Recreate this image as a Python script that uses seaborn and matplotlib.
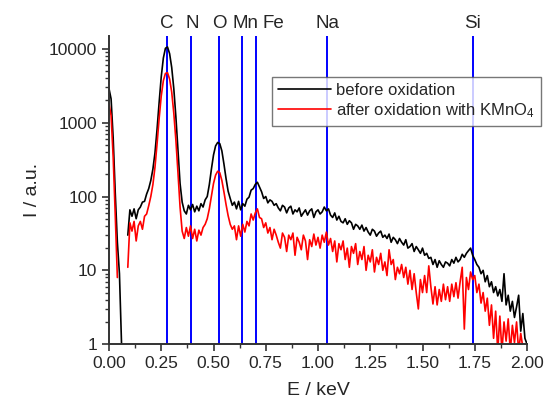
import numpy as np
import pandas as pd
import matplotlib
matplotlib.use("Agg")
import matplotlib.pyplot as plt
from matplotlib.lines import Line2D
from matplotlib.ticker import FuncFormatter, MultipleLocator, LogLocator
import seaborn as sns

# EDX spectra, channels every 0.01 keV from 0.00 to 2.00 keV
energy = np.round(np.arange(0, 201) * 0.01, 2)

before = [
    2900, 2100, 620, 110, 24, 9, 1, np.nan, np.nan, 30,
    66, 54, 68, 50, 66, 72, 84, 86, 108, 128,
    165, 235, 390, 820, 1900, 4200, 7500, 10200, 10600, 8600,
    5600, 2900, 1200, 420, 150, 84, 64, 58, 76, 66,
    78, 62, 74, 64, 80, 72, 90, 100, 145, 235,
    365, 485, 540, 520, 415, 275, 175, 118, 94, 76,
    84, 68, 86, 66, 80, 74, 92, 98, 122, 128,
    146, 156, 134, 116, 94, 100, 82, 90, 86, 76,
    80, 70, 64, 76, 72, 60, 70, 74, 58, 66,
    62, 70, 54, 60, 66, 56, 64, 68, 52, 62,
    66, 58, 62, 72, 64, 68, 56, 52, 60, 48,
    54, 46, 44, 50, 42, 47, 44, 36, 42, 40,
    36, 41, 34, 38, 33, 30, 36, 34, 29, 32,
    34, 28, 30, 27, 31, 24, 28, 26, 23, 27,
    24, 22, 26, 20, 21, 23, 18, 21, 19, 17,
    20, 16, 17, 14.5, 15, 12, 14, 11, 13.5, 12,
    11, 13, 12.5, 11.5, 14, 12.5, 15, 13, 14, 16.5,
    15, 17, 18.5, 20, 16, 14, 12, 11, 9, 10,
    7, 8.5, 6, 7, 5, 6, 4.5, 5.5, 3.8, 9,
    3.4, 4.6, 2.8, 3.8, 2.3, 3.2, 4.6, 1.5, 2.6, 1.2,
    1,
]

after = [
    1800, 1250, 340, 55, 8, np.nan, np.nan, np.nan, np.nan, 11,
    44, 34, 46, 25, 40, 46, 36, 54, 58, 75,
    100, 145, 250, 520, 1150, 2300, 3700, 4650, 4750, 3900,
    2600, 1350, 580, 210, 72, 34, 27, 38, 29, 40,
    27, 36, 25, 35, 30, 38, 42, 50, 68, 100,
    150, 195, 220, 210, 165, 115, 78, 55, 42, 36,
    40, 26, 40, 29, 42, 33, 46, 40, 58, 48,
    60, 68, 52, 50, 38, 44, 32, 38, 26, 36,
    30, 24, 20, 32, 28, 18, 30, 26, 32, 16,
    28, 24, 19, 30, 25, 14, 26, 21, 31, 22,
    28, 20, 30, 24, 33, 22, 27, 18, 25, 13,
    23, 19, 25, 14, 20, 11, 21, 17, 23, 12,
    18, 14, 21, 10, 16, 13, 19, 9.5, 15, 12,
    17, 10, 13, 8.5, 19, 12, 14, 7.5, 11, 9,
    12, 8, 11, 6.5, 10, 5.5, 9, 5, 3, 7.5,
    5, 8.5, 5, 11.5, 6, 3.5, 6, 3.4, 5.5, 3.8,
    6.5, 4, 6, 3.8, 6.5, 4.4, 6.8, 4.2, 7, 11,
    1.6, 8, 5.5, 9.5, 7.5, 8.5, 5, 6.5, 3.6, 5,
    2.8, 4.2, 1.8, 3.4, 1.2, 2.8, 0.8, 2.4, 0.8, 2,
    1.1, 2.2, 0.8, 1.8, 1.05, 2, 0.8, 1.4, 0.9, np.nan,
    np.nan,
]

series_names = ["before oxidation", "after oxidation with KMnO$_4$"]
series_colors = ["black", "red"]

# element lines and labels
elements = ["C", "N", "O", "Mn", "Fe", "Na", "Si"]
element_energy = [0.277, 0.392, 0.525, 0.637, 0.705, 1.041, 1.740]
label_pos = [0.274, 0.397, 0.526, 0.651, 0.787, 1.045, 1.739]

frames = []
for name, vals in zip(series_names, [before, after]):
    d = pd.DataFrame({"E": energy, "I": vals, "series": name})
    d["segment"] = d["I"].isna().cumsum()
    frames.append(d.dropna())
df = pd.concat(frames, ignore_index=True)

sns.set_style("ticks")
plt.rcParams["font.family"] = ["Liberation Sans", "DejaVu Sans"]
plt.rcParams["mathtext.default"] = "regular"

fig = plt.figure(figsize=(5.45, 4.03), dpi=100)
ax = fig.add_axes([0.2, 0.146, 0.767, 0.765])

for name, col in zip(series_names, series_colors):
    sns.lineplot(data=df[df["series"] == name], x="E", y="I", units="segment",
                 estimator=None, color=col, lw=1.2, legend=False, ax=ax)

for e in element_energy:
    ax.axvline(e, color="#0000ff", lw=1.4, zorder=0)
for lab, xp in zip(elements, label_pos):
    ax.text(xp, 1.027, lab, transform=ax.get_xaxis_transform(),
            ha="center", va="baseline", fontsize=13.5)

ax.set_yscale("log")
ax.set_ylim(1, 15000)
ax.set_xlim(0, 2.0)
ax.xaxis.set_major_locator(MultipleLocator(0.25))
ax.xaxis.set_minor_locator(MultipleLocator(0.125))
ax.xaxis.set_major_formatter(FuncFormatter(lambda v, _: f"{v:.2f}"))
ax.yaxis.set_major_locator(LogLocator(base=10, numticks=10))
ax.yaxis.set_minor_locator(LogLocator(base=10, subs=np.arange(2, 10), numticks=20))
ax.yaxis.set_major_formatter(FuncFormatter(lambda v, _: f"{v:g}"))

ax.tick_params(which="major", direction="out", length=5, width=1.2, labelsize=12.5, color="#333333")
ax.tick_params(which="minor", direction="out", length=3, width=1, color="#333333")
sns.despine(ax=ax)
for s in ["left", "bottom"]:
    ax.spines[s].set_linewidth(1.4)
    ax.spines[s].set_color("#333333")

ax.set_xlabel("E / keV", fontsize=14, labelpad=8)
ax.set_ylabel("I / a.u.", fontsize=14, labelpad=6)

handles = [Line2D([], [], color=c, lw=1.2) for c in series_colors]
leg = ax.legend(handles, series_names, loc="upper left", bbox_to_anchor=(0.39, 0.867),
                borderaxespad=0, fontsize=12, frameon=True, fancybox=False,
                handlelength=3.2, handletextpad=0.3, borderpad=0.35, labelspacing=0.2)
leg.get_frame().set_edgecolor("#555555")
leg.get_frame().set_linewidth(1)

fig.savefig("out.png", dpi=100)
